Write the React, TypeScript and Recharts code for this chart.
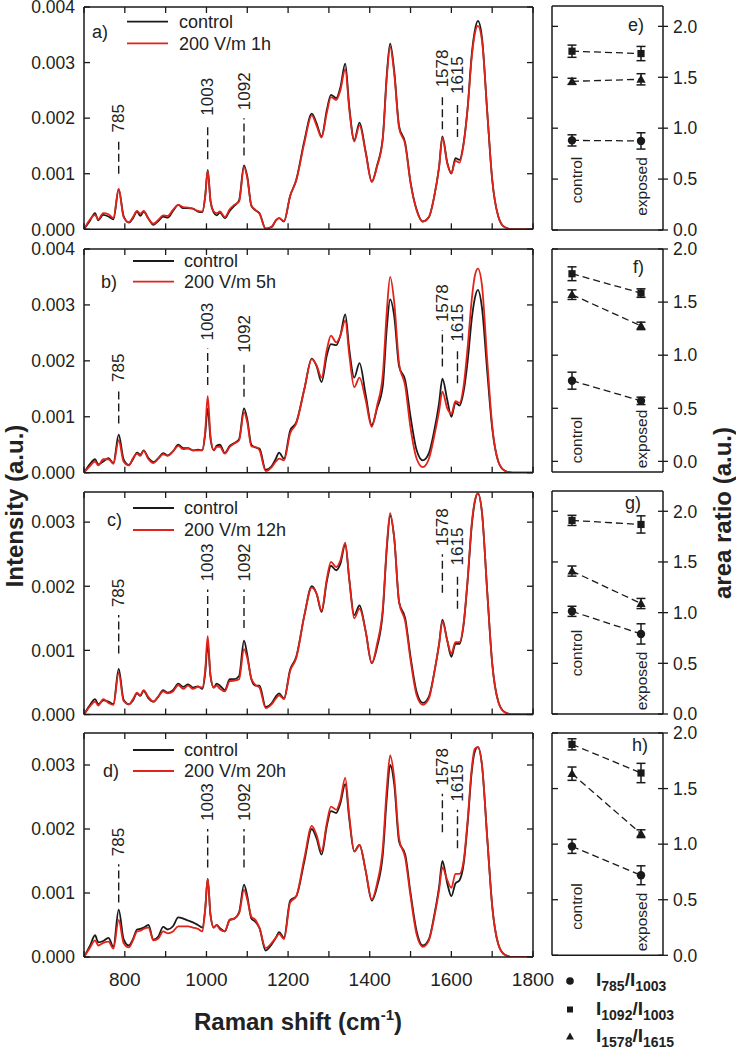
import React from "react";
import { LineChart, Line, XAxis, YAxis, ReferenceLine, ReferenceDot, ErrorBar } from "recharts";

const FONT = "'Liberation Sans', Arial, Helvetica, sans-serif";
const INK = "#1a1a1a";
const RED = "#e2231a";

// Raman shift grid (cm-1)
const shift = [700,715,727,735,747,760,772,785,797,810,820,830,838,846,858,870,882,894,905,918,931,943,955,967,979,990,997,1003,1010,1018,1025,1033,1045,1057,1068,1080,1092,1100,1110,1120,1130,1145,1160,1170,1178,1190,1205,1220,1240,1258,1270,1282,1295,1305,1318,1328,1340,1350,1362,1375,1390,1405,1418,1432,1442,1450,1460,1472,1487,1500,1515,1530,1545,1558,1570,1578,1590,1600,1610,1620,1630,1640,1650,1657,1665,1675,1688,1700,1715,1730,1750,1775,1800];

// intensities, in units of 1e-4 a.u.
const aControl = [0,1.6,2.9,1.6,2.6,2.3,1.8,7.2,2.4,1.2,2.0,3.2,2.4,3.2,1.9,0.8,1.5,2.3,2.1,3.3,4.4,3.8,3.8,3.7,3.2,3.1,6.0,10.7,5.0,3.0,2.5,3.0,2.0,3.3,4.2,5.2,11.5,9.5,4.2,3.4,2.9,0.1,0.4,1.6,2.0,1.4,6.0,8.9,16.0,20.8,19.0,16.7,21.5,24.2,23.6,25.5,29.8,22.0,16.0,19.2,14.0,8.6,11.5,16.5,28.0,33.4,28.5,18.5,15.5,8.5,3.5,1.4,2.2,5.9,11.3,16.7,12.0,10.0,12.8,12.5,15.5,22.0,31.5,35.5,37.5,34.5,21.0,9.0,2.3,0.4,0,0,0];
const aExposed = [0,1.8,2.6,1.8,2.9,2.7,2.0,7.3,2.2,1.3,2.2,3.3,2.8,3.3,1.9,1.0,1.7,2.5,2.4,3.5,4.4,4.0,3.9,3.7,3.3,3.2,6.0,10.5,5.2,3.2,2.9,3.2,2.2,3.6,4.4,5.0,11.2,9.2,4.3,3.5,2.8,0.1,0.5,1.6,2.0,1.5,6.0,8.8,15.6,20.5,18.6,16.5,21.0,23.8,23.3,25.0,28.8,21.5,15.8,18.7,13.8,8.5,11.3,16.2,27.5,32.8,28.0,18.2,15.2,8.3,3.4,1.4,2.2,5.9,11.2,16.5,11.8,10.1,12.3,12.0,15.3,21.8,31.0,35.0,36.6,34.0,21.0,9.0,2.3,0.4,0,0,0];
const bControl = [0,1.6,2.4,1.5,2.0,2.6,1.7,6.8,2.4,1.4,2.4,3.6,3.2,4.0,2.6,1.9,2.6,3.5,3.1,3.8,5.0,4.4,4.4,4.0,4.1,4.0,7.0,11.5,6.0,4.0,4.8,5.0,3.5,4.8,5.3,6.0,11.5,9.5,5.0,4.5,4.3,0.5,1.2,2.5,3.6,2.5,7.5,9.0,15.0,20.4,19.0,16.2,21.0,23.0,22.8,24.5,28.3,22.0,17.0,19.6,14.0,8.5,11.5,15.5,26.0,31.0,28.0,19.0,16.5,10.0,4.0,2.2,3.5,7.5,12.5,16.8,13.0,10.0,12.5,12.0,14.5,20.0,27.5,31.0,32.7,29.5,18.0,8.0,2.0,0.4,0,0,0];
const bExposed = [0,1.2,2.0,1.3,2.4,2.4,1.6,5.8,2.0,1.3,2.6,3.4,3.0,3.9,2.4,1.7,2.5,3.3,3.0,3.8,4.8,4.2,4.3,4.0,4.0,4.1,7.5,13.7,6.5,4.0,4.6,4.6,3.4,4.6,5.2,5.8,10.8,9.0,4.7,4.6,4.0,0.3,1.0,2.0,2.5,2.2,7.0,8.8,15.0,20.3,19.2,17.0,22.0,24.5,23.3,24.5,27.2,21.0,15.3,17.0,13.0,8.2,12.0,17.5,29.0,35.0,30.5,19.5,15.5,8.0,2.5,1.0,2.5,6.5,11.0,14.5,11.5,10.5,12.8,12.5,15.5,22.5,31.0,35.0,36.5,33.5,20.0,8.5,2.0,0.4,0,0,0];
const cControl = [0,1.5,2.4,1.6,2.2,2.0,1.6,7.1,2.3,1.6,2.2,3.3,2.9,3.7,2.5,2.0,2.8,3.8,3.4,3.8,4.8,4.3,4.7,4.2,4.4,4.0,6.5,11.0,6.0,4.2,4.8,4.5,3.8,5.5,5.5,6.0,11.5,9.3,5.5,4.5,4.5,1.2,1.8,2.8,3.3,2.5,7.0,9.0,15.5,20.0,18.8,16.0,20.8,23.2,22.5,23.5,26.5,21.0,15.5,17.0,13.0,8.0,10.5,16.0,26.0,31.0,27.5,17.5,15.0,9.0,3.5,1.8,2.8,6.5,11.0,14.8,11.5,9.0,11.0,11.0,14.0,21.0,29.5,33.0,34.5,31.5,19.0,8.0,2.0,0.4,0,0,0];
const cExposed = [0,1.3,2.0,1.4,2.4,1.8,1.5,6.5,2.1,1.6,2.4,3.4,3.0,3.8,2.7,2.0,2.8,3.6,3.3,3.6,4.6,4.0,4.5,4.0,4.3,4.2,7.0,12.2,6.0,4.2,4.5,4.0,3.6,5.2,5.3,5.5,10.2,8.8,5.6,4.6,4.2,1.0,1.6,2.5,3.0,2.4,6.8,8.8,15.5,19.8,18.8,16.2,21.2,23.8,23.0,24.0,26.8,21.0,15.0,16.5,13.0,8.0,11.0,16.5,26.5,31.4,27.5,17.5,14.5,8.5,3.0,1.5,2.5,6.5,11.0,14.5,11.5,9.5,11.3,11.3,14.2,21.2,29.8,33.2,34.5,31.5,19.0,8.0,2.0,0.4,0,0,0];
const dControl = [0,1.8,3.4,2.3,2.5,3.0,1.6,7.4,2.8,1.8,2.8,4.3,4.4,4.6,5.0,2.7,3.2,4.7,4.3,4.8,6.2,6.0,5.7,5.4,5.0,4.6,7.5,12.2,6.5,4.6,5.0,4.5,4.0,5.8,6.0,7.0,11.3,9.5,6.0,5.5,4.5,1.0,2.0,3.0,3.9,3.0,8.8,9.5,15.0,20.0,18.5,16.0,20.5,22.8,22.5,24.0,27.0,21.5,16.5,17.5,13.5,8.8,11.0,16.0,25.0,30.0,27.0,18.0,16.0,10.0,4.0,1.8,2.8,6.5,11.0,15.0,11.5,9.5,11.5,12.0,14.5,21.0,29.0,32.0,32.8,30.0,18.5,8.0,2.0,0.4,0,0,0];
const dExposed = [0,1.5,2.6,1.8,2.2,2.4,1.3,5.8,2.2,1.5,2.6,4.0,4.1,4.4,4.6,2.6,2.9,4.0,3.7,4.0,4.8,4.8,4.8,4.6,4.4,4.0,7.5,12.2,6.5,4.6,5.0,4.3,4.0,5.8,6.0,6.8,10.5,9.0,6.3,5.8,4.5,1.4,2.2,3.0,3.6,2.8,8.5,9.5,15.5,20.5,19.0,16.5,21.0,23.5,23.0,24.5,28.0,22.0,16.5,17.5,13.5,9.0,11.5,17.0,26.5,31.5,28.0,18.5,15.5,9.5,3.5,1.6,2.6,6.2,10.5,14.0,12.0,10.8,13.0,13.0,15.0,21.5,29.5,32.5,32.8,30.0,18.5,8.0,2.0,0.4,0,0,0];

const shiftTicks = [700,800,900,1000,1100,1200,1300,1400,1500,1600,1700,1800];
const shiftLabels = [800,1000,1200,1400,1600,1800];
const ticksAB = [0,0.001,0.002,0.003,0.004];
const ticksCD = [0,0.001,0.002,0.003];

// peak markers: position, dashed line from lo to hi (1e-4 a.u.)
const peakPos = [785,1003,1092,1578,1615];
const peakText = ["785","1003","1092","1578","1615"];
const aPeakLo = [10,12.6,13.3,18,16.6];
const aPeakHi = [16,19,20,24.1,22.9];
const bPeakLo = [8.8,15.7,13.6,19,16];
const bPeakHi = [14.8,22.2,20,25.5,22];
const cPeakLo = [9.5,13.5,13.5,19,16.5];
const cPeakHi = [15.5,19.5,19.5,25,22];
const dPeakLo = [8.5,14,14,19.5,17];
const dPeakHi = [14.5,20,20,25.5,23];

// area ratios: rows = I785/I1003 (circle), I1092/I1003 (square), I1578/I1615 (triangle)
const groups = ["control","exposed"];
const ratioTicks = [0,0.5,1,1.5,2];
const eMean = [[0.88,0.875],[1.756,1.733],[1.46,1.48]];
const eErr = [[0.055,0.08],[0.06,0.07],[0.03,0.055]];
const fMean = [[0.76,0.57],[1.767,1.585],[1.57,1.276]];
const fErr = [[0.08,0.035],[0.065,0.04],[0.045,0.035]];
const gMean = [[1.013,0.79],[1.91,1.87],[1.41,1.09]];
const gErr = [[0.05,0.1],[0.05,0.085],[0.05,0.05]];
const hMean = [[0.98,0.72],[1.898,1.64],[1.634,1.094]];
const hErr = [[0.063,0.085],[0.05,0.087],[0.06,0.035]];

const TM = 8;
const TL = 6;
const frame = { stroke: INK, strokeWidth: 1.5 };

const leftTick = (label: boolean, fmt: (v: number) => string) => (p: any) => (
  <g>
    <line x1={p.x + TM} x2={p.x + TM + TL} y1={p.y} y2={p.y} stroke={INK} strokeWidth={1.3} />
    {label && (
      <text x={p.x - 1} y={p.y} dy="0.36em" textAnchor="end" fontSize={17.5} fontFamily={FONT} fill="#222">
        {fmt(p.payload.value)}
      </text>
    )}
  </g>
);

const rightTickIn = (p: any) => (
  <line x1={p.x - TM} x2={p.x - TM - TL} y1={p.y} y2={p.y} stroke={INK} strokeWidth={1.3} />
);

const rightTickCross = (p: any) => (
  <g>
    <line x1={p.x - TM - 5} x2={p.x - TM + 5} y1={p.y} y2={p.y} stroke={INK} strokeWidth={1.3} />
    <text x={p.x + 2} y={p.y} dy="0.36em" textAnchor="start" fontSize={17.5} fontFamily={FONT} fill="#222">
      {p.payload.value.toFixed(1)}
    </text>
  </g>
);

const bottomTick = (label: boolean) => (p: any) => (
  <g>
    <line x1={p.x} x2={p.x} y1={p.y - TM} y2={p.y - TM - TL} stroke={INK} strokeWidth={1.3} />
    {label && shiftLabels.includes(p.payload.value) && (
      <text x={p.x} y={p.y - TM + 22} dy="0.36em" textAnchor="middle" fontSize={19} fontFamily={FONT} fill="#222">
        {p.payload.value}
      </text>
    )}
  </g>
);

const topTick = (p: any) => (
  <line x1={p.x} x2={p.x} y1={p.y + TM} y2={p.y + TM + TL} stroke={INK} strokeWidth={1.3} />
);

type SpecProps = {
  top: number; bottom: number; yMax: number; yTicks: number[];
  control: number[]; exposed: number[]; lo: number[]; hi: number[]; showX?: boolean;
};

function Spectrum({ top, bottom, yMax, yTicks, control, exposed, lo, hi, showX = false }: SpecProps) {
  const data = shift.map((s, i) => ({ s, c: control[i] * 1e-4, e: exposed[i] * 1e-4 }));
  const ph = bottom - top;
  const xh = showX ? 40 : 1;
  const w = showX ? 560 : 540;
  return (
    <div style={{ position: "absolute", left: 0, top: top - 10 }}>
      <LineChart width={w} height={ph + 19 + xh} data={data}
        margin={{ top: 9, right: w - 534, bottom: 9, left: 0 }}>
        <XAxis xAxisId="b" dataKey="s" type="number" domain={[700, 1800]} ticks={shiftTicks} interval={0}
          height={xh} tickSize={0} tickMargin={TM} tickLine={false} axisLine={frame} tick={bottomTick(showX)} allowDataOverflow />
        <XAxis xAxisId="t" orientation="top" dataKey="s" type="number" domain={[700, 1800]} ticks={shiftTicks} interval={0}
          height={1} tickSize={0} tickMargin={TM} tickLine={false} axisLine={frame} tick={topTick} allowDataOverflow />
        <YAxis yAxisId="l" type="number" domain={[0, yMax]} ticks={yTicks} interval={0} width={84}
          tickSize={0} tickMargin={TM} tickLine={false} axisLine={frame} tick={leftTick(true, (v) => v.toFixed(3))} allowDataOverflow />
        <YAxis yAxisId="r" orientation="right" type="number" domain={[0, yMax]} ticks={yTicks} interval={0} width={1}
          tickSize={0} tickMargin={TM} tickLine={false} axisLine={frame} tick={rightTickIn} allowDataOverflow />
        {peakPos.map((x, i) => (
          <ReferenceLine key={"l" + x} xAxisId="b" yAxisId="l"
            segment={[{ x, y: lo[i] * 1e-4 }, { x, y: hi[i] * 1e-4 }]}
            stroke={INK} strokeWidth={1.4} strokeDasharray="8 4" />
        ))}
        {peakPos.map((x, i) => (
          <ReferenceDot key={"d" + x} xAxisId="b" yAxisId="l" x={x} y={hi[i] * 1e-4}
            shape={(p: any) => (
              <text transform={`translate(${p.cx},${p.cy - 8}) rotate(-90)`} dominantBaseline="central"
                textAnchor="start" fontSize={17} fontFamily={FONT} fill="#222">
                {peakText[i]}
              </text>
            )} />
        ))}
        <Line xAxisId="b" yAxisId="l" dataKey="c" type="monotone" stroke={INK} strokeWidth={1.8} dot={false} isAnimationActive={false} />
        <Line xAxisId="b" yAxisId="l" dataKey="e" type="monotone" stroke={RED} strokeWidth={1.8} dot={false} isAnimationActive={false} />
      </LineChart>
    </div>
  );
}

const circleDot = (p: any) => <circle key={p.index} cx={p.cx} cy={p.cy} r={4.2} fill={INK} />;
const squareDot = (p: any) => <rect key={p.index} x={p.cx - 3.6} y={p.cy - 3.6} width={7.2} height={7.2} fill={INK} />;
const triDot = (p: any) => (
  <path key={p.index} d={`M${p.cx},${p.cy - 4.8} L${p.cx + 4.6},${p.cy + 3.4} L${p.cx - 4.6},${p.cy + 3.4} Z`} fill={INK} />
);
const dots = [circleDot, squareDot, triDot];

type RatioProps = { top: number; bottom: number; yMin: number; yMax: number; mean: number[][]; err: number[][] };

function Ratio({ top, bottom, yMin, yMax, mean, err }: RatioProps) {
  const data = groups.map((g, i) => ({
    g, m0: mean[0][i], e0: err[0][i], m1: mean[1][i], e1: err[1][i], m2: mean[2][i], e2: err[2][i],
  }));
  const ph = bottom - top;
  return (
    <div style={{ position: "absolute", left: 540, top: top - 10 }}>
      <LineChart width={196} height={ph + 20} data={data} margin={{ top: 9, right: 0, bottom: 9, left: 0 }}>
        <XAxis xAxisId="b" dataKey="g" type="category" padding={{ left: 20, right: 22 }} height={1}
          tick={false} tickLine={false} axisLine={frame} />
        <XAxis xAxisId="t" orientation="top" dataKey="g" type="category" padding={{ left: 20, right: 22 }} height={1}
          tick={false} tickLine={false} axisLine={frame} />
        <YAxis yAxisId="l" type="number" domain={[yMin, yMax]} ticks={ratioTicks} interval={0} width={12}
          tickSize={0} tickMargin={TM} tickLine={false} axisLine={frame} tick={leftTick(false, (v) => v.toFixed(1))} allowDataOverflow />
        <YAxis yAxisId="r" orientation="right" type="number" domain={[yMin, yMax]} ticks={ratioTicks} interval={0} width={73}
          tickSize={0} tickMargin={TM} tickLine={false} axisLine={frame} tick={rightTickCross} allowDataOverflow />
        {[0, 1, 2].map((k) => (
          <Line key={k} xAxisId="b" yAxisId="l" dataKey={"m" + k} type="linear" stroke={INK} strokeWidth={1.3}
            strokeDasharray="7 4" dot={dots[k]} activeDot={false} isAnimationActive={false}>
            <ErrorBar dataKey={"e" + k} direction="y" width={4.5} stroke={INK} strokeWidth={1.5} />
          </Line>
        ))}
      </LineChart>
    </div>
  );
}

const rot = (x: number, y: number) => `translate(${x},${y}) rotate(-90)`;

function Overlay() {
  const tag = { fontSize: 18, fontFamily: FONT, fill: "#222" };
  const leg = [
    { y1: 21.7, y2: 43.3, x: 127, tx: 179, tagX: 92, tagY: 38, tag: "a)", text: "200 V/m 1h" },
    { y1: 261, y2: 281.7, x: 133, tx: 184, tagX: 101, tagY: 288, tag: "b)", text: "200 V/m 5h" },
    { y1: 508, y2: 530, x: 133, tx: 184, tagX: 107, tagY: 526, tag: "c)", text: "200 V/m 12h" },
    { y1: 750, y2: 771, x: 133, tx: 184, tagX: 103, tagY: 777, tag: "d)", text: "200 V/m 20h" },
  ];
  const rtags = [
    { x: 628, y: 31, t: "e)" }, { x: 633, y: 273, t: "f)" }, { x: 625, y: 509, t: "g)" }, { x: 632, y: 751, t: "h)" },
  ];
  const grp = [
    { c: 180, e: 186.5 }, { c: 440, e: 439 }, { c: 653, e: 681 }, { c: 906.5, e: 922 },
  ];
  const sub = { fontSize: 14 };
  const legendRows = [
    { y: 981, a: "785", b: "1003" }, { y: 1009.5, a: "1092", b: "1003" }, { y: 1036.5, a: "1578", b: "1615" },
  ];
  return (
    <svg width={736} height={1050} style={{ position: "absolute", left: 0, top: 0, pointerEvents: "none" }}>
      {leg.map((l) => (
        <g key={l.tag}>
          <line x1={l.x} x2={l.x + 41} y1={l.y1} y2={l.y1} stroke={INK} strokeWidth={1.8} />
          <line x1={l.x} x2={l.x + 41} y1={l.y2} y2={l.y2} stroke={RED} strokeWidth={1.8} />
          <text x={l.tx} y={l.y1} dy="0.36em" {...tag}>control</text>
          <text x={l.tx} y={l.y2} dy="0.36em" {...tag}>{l.text}</text>
          <text x={l.tagX} y={l.tagY} {...tag}>{l.tag}</text>
        </g>
      ))}
      {rtags.map((r) => (
        <text key={r.t} x={r.x} y={r.y} {...tag}>{r.t}</text>
      ))}
      {grp.map((g, i) => (
        <g key={i} fontSize={15.5} fontFamily={FONT} fill="#222">
          <text transform={rot(576.7, g.c)} textAnchor="middle" dominantBaseline="central">control</text>
          <text transform={rot(641.7, g.e)} textAnchor="middle" dominantBaseline="central">exposed</text>
        </g>
      ))}
      <text transform={rot(14, 506)} textAnchor="middle" dominantBaseline="central" fontSize={24} fontWeight="bold" fontFamily={FONT} fill="#222">
        Intensity (a.u.)
      </text>
      <text transform={rot(722, 513)} textAnchor="middle" dominantBaseline="central" fontSize={24} fontWeight="bold" fontFamily={FONT} fill="#222">
        area ratio (a.u.)
      </text>
      <text x={298} y={1030} textAnchor="middle" fontSize={24} fontWeight="bold" fontFamily={FONT} fill="#222">
        Raman shift (cm<tspan dy={-10} fontSize={15}>-1</tspan><tspan dy={10}>)</tspan>
      </text>
      {legendRows.map((r, i) => (
        <g key={i}>
          {i === 0 && <circle cx={570} cy={r.y} r={3.8} fill={INK} />}
          {i === 1 && <rect x={567} y={r.y - 3} width={6} height={6} fill={INK} />}
          {i === 2 && <path d={`M570,${r.y - 4} L574,${r.y + 3} L566,${r.y + 3} Z`} fill={INK} />}
          <text x={596} y={r.y + 5} fontSize={19} fontWeight="bold" fontFamily={FONT} fill="#222">
            I<tspan dy={5} {...sub}>{r.a}</tspan><tspan dy={-5}>/I</tspan><tspan dy={5} {...sub}>{r.b}</tspan>
          </text>
        </g>
      ))}
    </svg>
  );
}

export default function App() {
  return (
    <div style={{ position: "absolute", left: 0, top: 0, width: 736, height: 1050, background: "#fff", fontFamily: FONT }}>
      <Spectrum top={7} bottom={229.3} yMax={0.004} yTicks={ticksAB} control={aControl} exposed={aExposed} lo={aPeakLo} hi={aPeakHi} />
      <Spectrum top={249} bottom={472.7} yMax={0.004} yTicks={ticksAB} control={bControl} exposed={bExposed} lo={bPeakLo} hi={bPeakHi} />
      <Spectrum top={491.5} bottom={714} yMax={0.00347} yTicks={ticksCD} control={cControl} exposed={cExposed} lo={cPeakLo} hi={cPeakHi} />
      <Spectrum top={733} bottom={957} yMax={0.0035} yTicks={ticksCD} control={dControl} exposed={dExposed} lo={dPeakLo} hi={dPeakHi} showX />
      <Ratio top={6} bottom={230} yMin={0} yMax={2.2} mean={eMean} err={eErr} />
      <Ratio top={249} bottom={472} yMin={-0.1} yMax={2.0} mean={fMean} err={fErr} />
      <Ratio top={491} bottom={714} yMin={0} yMax={2.2} mean={gMean} err={gErr} />
      <Ratio top={732.7} bottom={955} yMin={0} yMax={2.0} mean={hMean} err={hErr} />
      <Overlay />
    </div>
  );
}
